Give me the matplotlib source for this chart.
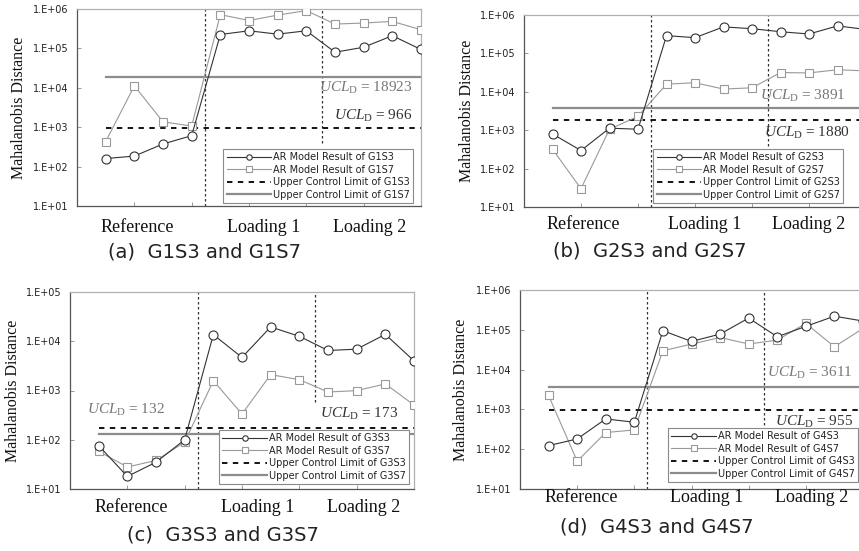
import matplotlib
matplotlib.use("Agg")
import matplotlib.pyplot as plt
import numpy as np

plt.rcParams['mathtext.fontset'] = 'custom'
plt.rcParams['mathtext.rm'] = 'Liberation Serif'
plt.rcParams['mathtext.it'] = 'Liberation Serif:italic'

# ---------------- data ----------------
x_idx = list(range(1, 13))
group_labels = ["Reference", "Loading 1", "Loading 2"]
ytick_labels_6 = ["1.E+01", "1.E+02", "1.E+03", "1.E+04", "1.E+05", "1.E+06"]
ytick_labels_5 = ["1.E+01", "1.E+02", "1.E+03", "1.E+04", "1.E+05"]

g1s3 = [160, 185, 375, 610, 2.25e5, 2.8e5, 2.3e5, 2.8e5, 8.0e4, 1.07e5, 2.1e5, 9.4e4]
g1s7 = [430, 1.12e4, 1.37e3, 1.07e3, 7.2e5, 5.1e5, 7.0e5, 9.1e5, 4.15e5, 4.4e5, 4.85e5, 2.97e5]
g2s3 = [800, 295, 1.13e3, 1.06e3, 2.9e5, 2.57e5, 4.9e5, 4.4e5, 3.67e5, 3.2e5, 5.2e5, 4.2e5]
g2s7 = [320, 30, 1.06e3, 2.3e3, 1.58e4, 1.72e4, 1.18e4, 1.27e4, 3.17e4, 3.1e4, 3.75e4, 3.5e4]
g3s3 = [76, 18, 35, 100, 1.36e4, 4.7e3, 1.95e4, 1.26e4, 6.5e3, 6.9e3, 1.38e4, 4.0e3]
g3s7 = [58, 28, 38, 89, 1.58e3, 333, 2.1e3, 1.66e3, 933, 993, 1.36e3, 507]
g4s3 = [123, 181, 576, 476, 9.5e4, 5.1e4, 7.8e4, 1.97e5, 6.7e4, 1.22e5, 2.2e5, 1.66e5]
g4s7 = [2.24e3, 50, 262, 305, 2.97e4, 4.37e4, 6.4e4, 4.4e4, 5.5e4, 1.45e5, 3.75e4, 1.08e5]

ucl_s3 = [966, 1880, 173, 955]
ucl_s7 = [18923, 3891, 132, 3611]

names = [("G1S3", "G1S7"), ("G2S3", "G2S7"), ("G3S3", "G3S7"), ("G4S3", "G4S7")]
s3_series = [g1s3, g2s3, g3s3, g4s3]
s7_series = [g1s7, g2s7, g3s7, g4s7]
captions = ["(a)  G1S3 and G1S7", "(b)  G2S3 and G2S7",
            "(c)  G3S3 and G3S7", "(d)  G4S3 and G4S7"]
ymax_exp = [6, 6, 5, 6]

# ---------------- layout ----------------
W, H = 859, 551
fig = plt.figure(figsize=(W / 100, H / 100), dpi=100)

# axes boxes in pixels: left, top, right, bottom
boxes = [(77, 9, 421, 206), (524, 15, 866, 207), (70, 292, 414, 489), (520, 290, 863, 489)]
ylabel_x = [19, 467, 13, 461]
group_x = [[2.1, 6.5, 10.2], [2.07, 6.35, 10.0], [2.12, 6.53, 10.25], [2.13, 6.54, 10.2]]
group_y = [227, 224, 508, 498]
cap_xy = [(204, 252), (650, 251), (223, 535), (657, 527)]
vline2_ymin = [0.32, 0.32, 0.44, 0.32]
legend_anchor = [(0.977, 0.015), (0.933, 0.02), (0.985, 0.025), (0.985, 0.035)]
# UCL text: (x, y, ha) for s7 and s3
ucl7_pos = [(11.7, 9.9e3, 'right'), (11.3, 7.8e3, 'right'), (0.6, 400, 'left'), (11.65, 8.1e3, 'right')]
ucl3_pos = [(11.7, 1.9e3, 'right'), (11.45, 850, 'right'), (11.45, 331, 'right'), (11.65, 480, 'right')]

dark = '#333333'
gray = '#8c8c8c'

for i in range(4):
    l, t, r, b = boxes[i]
    ax = fig.add_axes([l / W, 1 - b / H, (r - l) / W, (b - t) / H])
    ax.set_yscale('log')
    ax.set_xlim(0, 12)
    ax.set_ylim(10, 10 ** ymax_exp[i])
    ax.minorticks_off()
    n3, n7 = names[i]
    ax.plot(x_idx, s3_series[i], color=dark, lw=0.8, marker='o', ms=6.5,
            mfc='white', mec=dark, mew=0.8, label=f"AR Model Result of {n3}", zorder=4)
    ax.plot(x_idx, s7_series[i], color='#999999', lw=0.8, marker='s', ms=6.2,
            mfc='white', mec='#999999', mew=0.8, label=f"AR Model Result of {n7}", zorder=3)
    ax.plot([x_idx[0], x_idx[-1]], [ucl_s3[i]] * 2, color='black', lw=1.3,
            ls=(0, (3, 3)), label=f"Upper Control Limit of {n3}", zorder=2)
    ax.plot([x_idx[0], x_idx[-1]], [ucl_s7[i]] * 2, color=gray, lw=1.6,
            label=f"Upper Control Limit of {n7}", zorder=2)
    ax.axvline(4.45, color=dark, lw=0.9, ls=(0, (2, 2)), zorder=1)
    ax.axvline(8.55, ymin=vline2_ymin[i], ymax=1, color=dark, lw=0.9, ls=(0, (2, 2)), zorder=1)

    exps = list(range(1, ymax_exp[i] + 1))
    labs = ytick_labels_6 if ymax_exp[i] == 6 else ytick_labels_5
    ax.set_yticks([10.0 ** e for e in exps])
    ax.set_yticklabels(labs)
    ax.set_xticks([2, 4, 6, 8, 10])
    ax.set_xticklabels([])
    ax.tick_params(direction='in', length=3, color='#999999', width=0.7,
                   labelsize=7, pad=6, labelcolor='#222222')
    for s in ['left', 'bottom']:
        ax.spines[s].set_color('#555555')
        ax.spines[s].set_linewidth(0.9)
    for s in ['top', 'right']:
        ax.spines[s].set_color('#b0b0b0')
        ax.spines[s].set_linewidth(0.9)

    leg = ax.legend(loc='lower right', bbox_to_anchor=legend_anchor[i], borderaxespad=0,
                    handlelength=4.6, handletextpad=0.15, labelspacing=0.25, markerscale=0.6,
                    borderpad=0.35, fancybox=False, framealpha=1, edgecolor='#8a8a8a',
                    prop={'family': 'DejaVu Sans', 'size': 7})
    leg.get_frame().set_linewidth(0.8)
    for txt in leg.get_texts():
        txt.set_color('#222222')

    x7, y7, ha7 = ucl7_pos[i]
    ax.text(x7, y7, r'$\mathit{UCL}_{\mathrm{D}}$ = ' + str(ucl_s7[i]), ha=ha7, va='center',
            fontsize=11, family='Liberation Serif', color='#777777', zorder=5)
    x3, y3, ha3 = ucl3_pos[i]
    ax.text(x3, y3, r'$\mathit{UCL}_{\mathrm{D}}$ = ' + str(ucl_s3[i]), ha=ha3, va='center',
            fontsize=11, family='Liberation Serif', color='#333333', zorder=5)

    for gx, gl in zip(group_x[i], group_labels):
        ax.annotate(gl, xy=(gx, 0), xycoords=('data', 'axes fraction'),
                    xytext=(0, -(group_y[i] - b) * 0.72), textcoords='offset points',
                    ha='center', va='center', fontsize=13, family='Liberation Serif',
                    color='#111111', annotation_clip=False)

    fig.text(ylabel_x[i] / W, 1 - ((t + b) / 2) / H, "Mahalanobis Distance", rotation=90,
             ha='center', va='center', fontsize=11.5, family='Liberation Serif', color='#111111')
    cx, cy = cap_xy[i]
    fig.text(cx / W, 1 - cy / H, captions[i], ha='center', va='center', fontsize=14,
             family='DejaVu Sans', color='#222222')

fig.savefig("out.png", dpi=100)
